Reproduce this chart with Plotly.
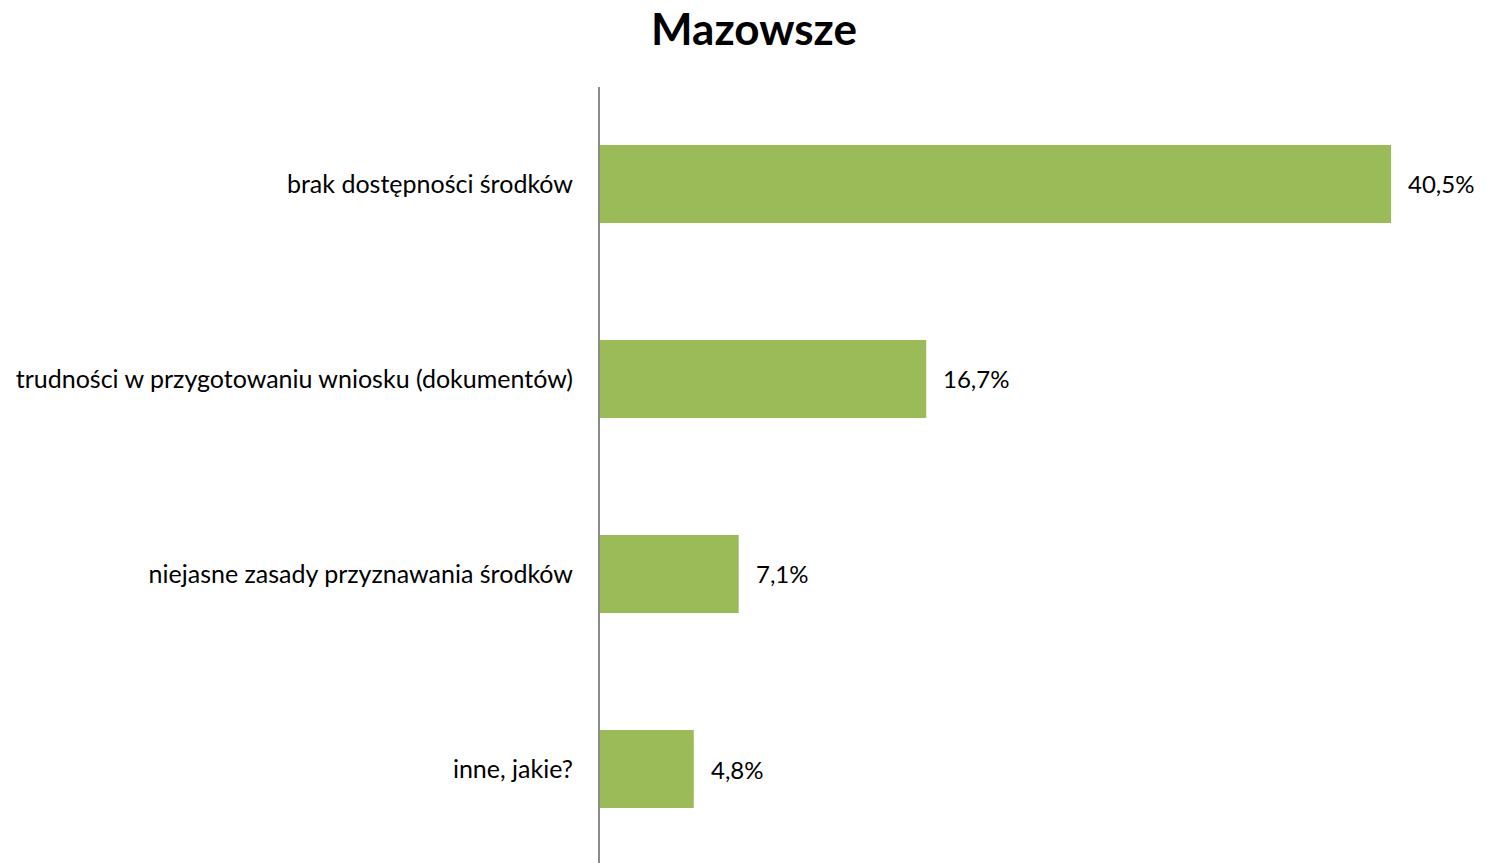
import plotly.graph_objects as go

categories = ["brak dostępności środków",
              "trudności w przygotowaniu wniosku (dokumentów)",
              "niejasne zasady przyznawania środków",
              "inne, jakie?"]
values = [40.5, 16.7, 7.1, 4.8]
labels = ["40,5%", "16,7%", "7,1%", "4,8%"]

FONT = "Lato, Carlito, Calibri, sans-serif"

fig = go.Figure()
fig.add_trace(go.Bar(
    y=categories, x=values, orientation="h",
    marker=dict(color="#9BBB59", line=dict(width=0)),
    width=0.4, hoverinfo="skip",
))
for c, v, t in zip(categories, values, labels):
    fig.add_annotation(x=v, y=c, text=t, showarrow=False, xanchor="left",
                       xshift=15, font=dict(family=FONT, size=24, color="#000000"))

fig.update_layout(
    width=1486, height=863,
    margin=dict(l=589, r=14, t=79, b=8),
    paper_bgcolor="white", plot_bgcolor="white",
    showlegend=False,
    title=dict(text="<b>Mazowsze</b>", x=746 / 1486, xref="container", xanchor="center",
               y=1 - 22 / 863, yanchor="middle", yref="container",
               font=dict(family=FONT, size=44, color="#000000")),
    xaxis=dict(range=[0, 45.05], showgrid=False, showticklabels=False, zeroline=False,
               showline=False, fixedrange=True),
    yaxis=dict(range=[3.482, -0.497], showgrid=False, zeroline=False,
               showline=True, linecolor="#8C8C8C", linewidth=2,
               ticks="", ticklabelstandoff=20,
               tickfont=dict(family=FONT, size=25, color="#000000")),
)
fig.write_html("out.html")
